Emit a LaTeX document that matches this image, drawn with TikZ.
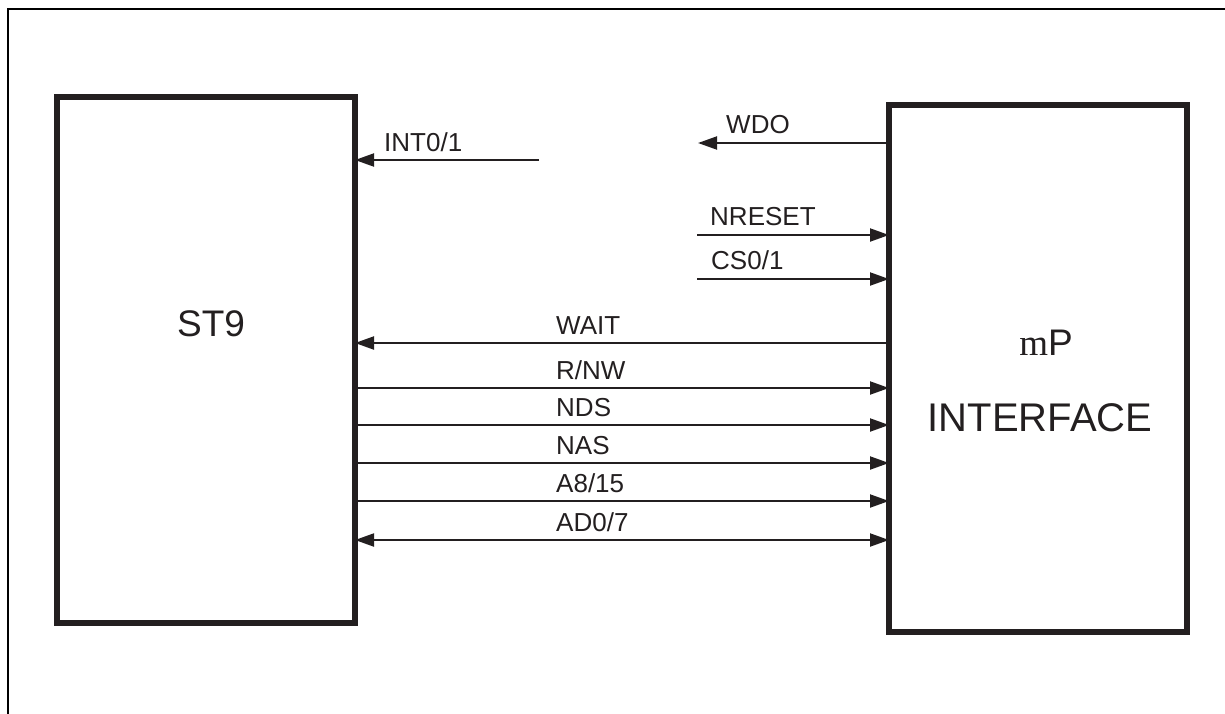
\documentclass[tikz,border=0pt]{standalone}
\usepackage{fontspec}
\setmainfont{Liberation Sans}
\newfontfamily\serifm{Liberation Serif}
\usepackage{xcolor}
\usetikzlibrary{arrows.meta, positioning}
\definecolor{ink}{RGB}{35,31,32}

\begin{document}
\begin{tikzpicture}[x=1pt, y=-1pt,
	block/.style={draw=ink, line width=6pt, outer sep=0pt, inner sep=0pt, minimum width=298pt},
	sig/.style={draw=ink, line width=2pt, -{Triangle[length=19pt, width=13pt]}},
	lbl/.style={anchor=base west, inner sep=0pt, text=ink, font=\fontsize{26}{31}\selectfont},
	big/.style={inner sep=0pt, text=ink, font=\fontsize{37}{44}\selectfont}]
	\useasboundingbox (0,0) rectangle (1225,713);
	\clip (0,0) rectangle (1225,713);
	% Frame:
	\draw[line width=2.2pt] (8,720) -- (8,9) -- (1232,9);
	% Blocks:
	\node[block, minimum height=526pt](ST) at (206,360){};
	\node[block, minimum height=527pt](MPI) at (1038,368.5){};
	\node[big](STtxt) at (211,324){ST9};
	\node[big](MUtxt) at (1046,343){{\serifm m}P};
	\node[big, font=\fontsize{40}{48}\selectfont](IFtxt) at (1040,418){INTERFACE};
	% Free ends:
	\coordinate (INT) at (539,160);
	\coordinate (WDO) at (698,143);
	\coordinate (NRS) at (697,235);
	\coordinate (CS) at (697,279);
	% Signals:
	\draw[sig] (INT) -- (INT -| ST.east);
	\node[lbl](L1) at (384,151){INT0/1};
	\draw[sig] (WDO -| MPI.west) -- (WDO);
	\node[lbl](L2) at (726,133){WDO};
	\draw[sig] (NRS) -- (NRS -| MPI.west);
	\node[lbl](L3) at (710,225){NRESET};
	\draw[sig] (CS) -- (CS -| MPI.west);
	\node[lbl](L4) at (711,269){CS0/1};
	\draw[sig] (MPI.west |- 0,343) -- (ST.east |- 0,343);
	\node[lbl](L5) at (556,334){WAIT};
	\draw[sig] (ST.east |- 0,388) -- (MPI.west |- 0,388);
	\node[lbl](L6) at (556,379){R/NW};
	\draw[sig] (ST.east |- 0,425) -- (MPI.west |- 0,425);
	\node[lbl](L7) at (556,416){NDS};
	\draw[sig] (ST.east |- 0,463) -- (MPI.west |- 0,463);
	\node[lbl](L8) at (556,454){NAS};
	\draw[sig] (ST.east |- 0,501) -- (MPI.west |- 0,501);
	\node[lbl](L9) at (556,492){A8/15};
	\draw[sig, {Triangle[length=19pt, width=13pt]}-{Triangle[length=19pt, width=13pt]}] (ST.east |- 0,540) -- (MPI.west |- 0,540);
	\node[lbl](L10) at (556,531){AD0/7};
\end{tikzpicture}
\end{document}
